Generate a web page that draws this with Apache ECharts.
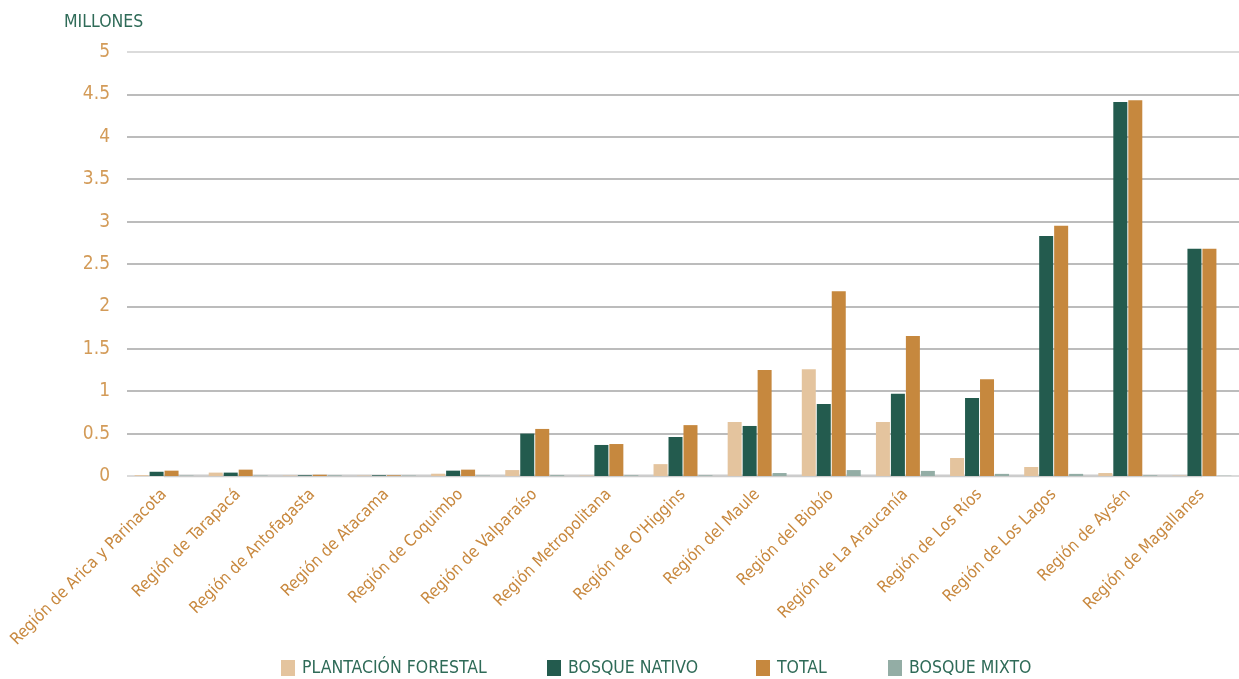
<!DOCTYPE html>
<html>
<head>
<meta charset="utf-8">
<script src="https://cdn.jsdelivr.net/npm/echarts@6/dist/echarts.min.js"></script>
<style>
html,body{margin:0;padding:0;background:#fff;}
#chart{width:1239px;height:679px;}
</style>
</head>
<body>
<div id="chart"></div>
<script>
const categories = [
  'Región de Arica y Parinacota','Región de Tarapacá','Región de Antofagasta','Región de Atacama',
  'Región de Coquimbo','Región de Valparaíso','Región Metropolitana',"Región de O'Higgins",
  'Región del Maule','Región del Biobío','Región de La Araucanía','Región de Los Ríos',
  'Región de Los Lagos','Región de Aysén','Región de Magallanes'
];
const plantacionForestal = [0.01, 0.04, 0.005, 0.005, 0.027, 0.07, 0.005, 0.14, 0.637, 1.26, 0.637, 0.212, 0.106, 0.035, 0.005];
const bosqueNativo      = [0.05, 0.04, 0.008, 0.008, 0.063, 0.50, 0.366, 0.46, 0.59, 0.85, 0.97, 0.92, 2.83, 4.41, 2.68];
const total             = [0.063, 0.075, 0.015, 0.008, 0.075, 0.555, 0.377, 0.60, 1.25, 2.18, 1.65, 1.14, 2.95, 4.43, 2.68];
const bosqueMixto       = [0.005, 0.005, 0.008, 0.005, 0.005, 0.01, 0.008, 0.008, 0.035, 0.07, 0.06, 0.025, 0.025, 0.008, 0.003];
const yTicks = [0, 0.5, 1, 1.5, 2, 2.5, 3, 3.5, 4, 4.5, 5];
const seriesNames = ['PLANTACIÓN FORESTAL', 'BOSQUE NATIVO', 'TOTAL', 'BOSQUE MIXTO'];

const FONT = "'Liberation Sans Narrow', 'DejaVu Sans Condensed', 'Roboto Condensed', 'Liberation Sans', sans-serif";
const colors = ['#e4c49e', '#235b4e', '#c6883e', '#93ada5'];
const legendLefts = [281, 547, 756, 888];

const chart = echarts.init(document.getElementById('chart'), null, {renderer: 'canvas'});
const splitColors = yTicks.map((v, i) => (i === 0 || i === yTicks.length - 1) ? '#cfcfcf' : '#a6a6a6');

const option = {
  animation: false,
  backgroundColor: '#ffffff',
  title: {
    text: 'MILLONES', left: 64, top: 13, padding: 0,
    textStyle: {color: '#2f6b58', fontFamily: FONT, fontSize: 17.5, fontWeight: 'normal'}
  },
  legend: seriesNames.map((n, i) => ({
    data: [n], left: legendLefts[i], top: 659, padding: 0,
    icon: 'rect', itemWidth: 14, itemHeight: 16, itemGap: 0,
    textStyle: {color: '#2f6b58', fontFamily: FONT, fontSize: 17.5, padding: [0, 0, 0, 2]}
  })),
  grid: {left: 127, right: 0, top: 52, bottom: 203, containLabel: false},
  xAxis: {
    type: 'category', data: categories,
    axisLine: {show: false},
    axisTick: {show: false},
    axisLabel: {rotate: 45, interval: 0, color: '#c8883e', fontFamily: FONT, fontSize: 16.5, margin: 16}
  },
  yAxis: {
    type: 'value', min: 0, max: 5, interval: 0.5,
    axisLine: {show: false}, axisTick: {show: false},
    axisLabel: {color: '#d39b58', fontFamily: FONT, fontSize: 19, margin: 17},
    splitLine: {lineStyle: {color: splitColors, width: 1.5}}
  },
  series: seriesNames.map((n, i) => ({
    name: n, type: 'bar',
    data: [plantacionForestal, bosqueNativo, total, bosqueMixto][i],
    barWidth: 14, barGap: '7%',
    itemStyle: {color: colors[i]}
  })).concat([{
    type: 'line', data: categories.map(() => 0), silent: true, symbol: 'none',
    lineStyle: {color: '#cccccc', width: 3}, z: 1, tooltip: {show: false}
  }])
};
chart.setOption(option);
</script>
</body>
</html>
